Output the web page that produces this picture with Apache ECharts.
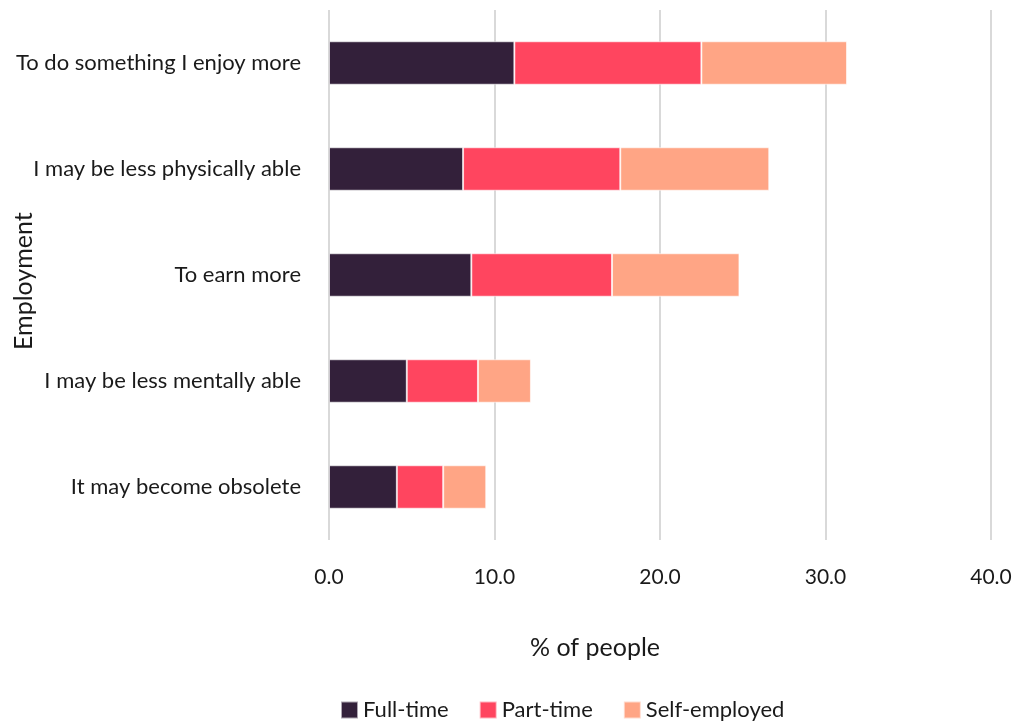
<!DOCTYPE html>
<html>
<head>
<meta charset="utf-8">
<script src="https://cdn.jsdelivr.net/npm/echarts@6/dist/echarts.min.js"></script>
<style>
  html, body { margin: 0; padding: 0; background: #fff; }
  #chart { width: 1019px; height: 723px; }
</style>
</head>
<body>
<div id="chart"></div>
<script>
// Reasons for staying in work, split by employment type (% of people)
const categories = [
  'It may become obsolete',
  'I may be less mentally able',
  'To earn more',
  'I may be less physically able',
  'To do something I enjoy more'
];
const fullTime = [4.1, 4.7, 8.6, 8.1, 11.2];
const partTime = [2.8, 4.3, 8.5, 9.5, 11.3];
const selfEmployed = [2.6, 3.2, 7.7, 9.0, 8.8];
const xTicks = [0, 10, 20, 30, 40];

const font = 'Lato, "Open Sans", sans-serif';
const textColor = '#1a1a1a';

const chart = echarts.init(document.getElementById('chart'));

function barSeries(name, data, color) {
  return {
    name: name,
    type: 'bar',
    stack: 'total',
    data: data,
    barWidth: '41%',
    itemStyle: { color: color, borderColor: 'rgba(255,255,255,0.6)', borderWidth: 1 }
  };
}

chart.setOption({
  animation: false,
  textStyle: { fontFamily: font, color: textColor },
  grid: { left: 329, right: 28, top: 10, bottom: 183, containLabel: false },
  xAxis: {
    type: 'value',
    min: xTicks[0],
    max: xTicks[xTicks.length - 1],
    interval: 10,
    axisLine: { show: false },
    axisTick: { show: false },
    splitLine: { show: true, lineStyle: { color: '#d9d9d9', width: 2 } },
    axisLabel: {
      margin: 27,
      fontSize: 21,
      fontFamily: font,
      color: textColor,
      formatter: v => v.toFixed(1)
    }
  },
  yAxis: {
    type: 'category',
    data: categories,
    axisLine: { show: false },
    axisTick: { show: false },
    axisLabel: { margin: 28, fontSize: 22, fontFamily: font, color: textColor }
  },
  legend: {
    top: 699,
    left: 340,
    padding: 0,
    itemWidth: 17,
    itemHeight: 17,
    itemGap: 30,
    icon: 'rect',
    textStyle: { fontSize: 22, fontFamily: font, color: textColor },
    data: ['Full-time', 'Part-time', 'Self-employed']
  },
  graphic: [
    {
      type: 'text',
      left: 530,
      top: 635,
      style: { text: '% of people', font: '25px ' + font, fill: textColor }
    },
    {
      type: 'text',
      rotation: Math.PI / 2,
      x: 11,
      y: 350,
      style: { text: 'Employment', font: '25px ' + font, fill: textColor }
    }
  ],
  series: [
    barSeries('Full-time', fullTime, '#33203a'),
    barSeries('Part-time', partTime, '#ff455f'),
    barSeries('Self-employed', selfEmployed, '#ffa585')
  ]
});
</script>
</body>
</html>
